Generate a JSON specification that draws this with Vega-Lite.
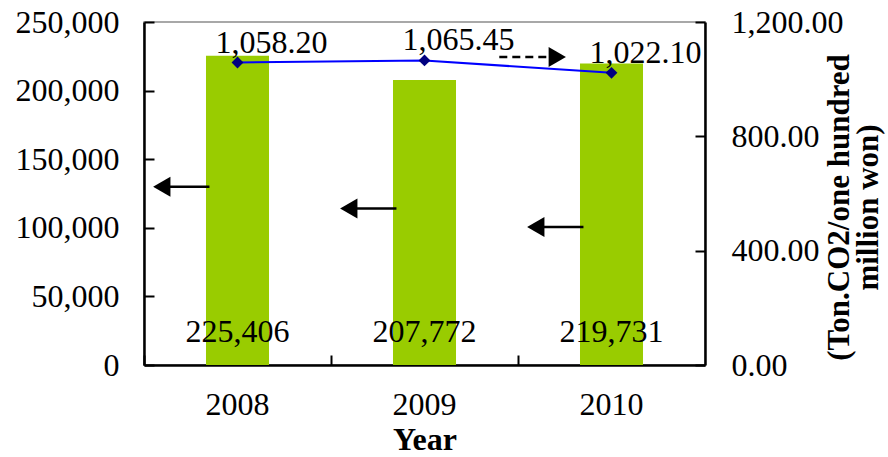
{
  "$schema": "https://vega.github.io/schema/vega-lite/v6.json",
  "width": 561,
  "height": 343,
  "autosize": "none",
  "padding": {"left": 144, "top": 22, "right": 183, "bottom": 92},
  "background": "white",
  "config": {
    "font": "Liberation Serif",
    "view": {"stroke": "#8c8c8c", "strokeWidth": 1.5},
    "axis": {
      "labelColor": "#000",
      "titleColor": "#000",
      "labelFontSize": 32,
      "titleFontSize": 32,
      "titleFontWeight": "bold",
      "domainColor": "#000",
      "domainWidth": 2.5,
      "tickColor": "#000",
      "tickWidth": 2,
      "tickSize": -10,
      "grid": false
    }
  },
  "datasets": {
    "emissions": [
      {"year": 2008, "total": 225406, "intensity": 1058.20},
      {"year": 2009, "total": 207772, "intensity": 1065.45},
      {"year": 2010, "total": 219731, "intensity": 1022.10}
    ],
    "leftArrows": [
      {"year": 2008, "level": 130000},
      {"year": 2009, "level": 114000},
      {"year": 2010, "level": 100500}
    ],
    "rightArrow": [
      {"from": 2009, "to": 2010, "level": 224500}
    ]
  },
  "layer": [
    {
      "encoding": {
        "y": {
          "type": "quantitative",
          "scale": {"domain": [0, 250000], "nice": false},
          "axis": {
            "orient": "left",
            "title": null,
            "values": [0, 50000, 100000, 150000, 200000, 250000],
            "format": ",d",
            "labelPadding": 35
          }
        }
      },
      "layer": [
        {
          "data": {"name": "emissions"},
          "mark": {"type": "bar", "color": "#99cc00", "width": {"band": 0.337}},
          "encoding": {
            "x": {
              "field": "year",
              "type": "ordinal",
              "title": "Year",
              "scale": {"paddingInner": 0, "paddingOuter": 0},
              "axis": {
                "labelAngle": 0,
                "bandPosition": 0,
                "labelPadding": 34,
                "titlePadding": 4
              }
            },
            "y": {"field": "total"}
          }
        },
        {
          "data": {"name": "emissions"},
          "mark": {"type": "text", "fontSize": 32, "color": "#000", "baseline": "alphabetic"},
          "encoding": {
            "x": {"field": "year", "type": "ordinal", "title": "Year"},
            "y": {"datum": 16800},
            "text": {"field": "total", "format": ",d"}
          }
        },
        {
          "data": {"name": "leftArrows"},
          "mark": {"type": "rule", "color": "#000", "strokeWidth": 2.5},
          "encoding": {
            "x": {"field": "year", "type": "ordinal", "title": "Year", "bandPosition": 0.1},
            "x2": {"field": "year", "bandPosition": 0.35},
            "y": {"field": "level"}
          }
        },
        {
          "data": {"name": "leftArrows"},
          "mark": {"type": "point", "shape": "triangle-left", "filled": true, "color": "#000", "size": 400, "opacity": 1},
          "encoding": {
            "x": {"field": "year", "type": "ordinal", "title": "Year", "bandPosition": 0.095},
            "y": {"field": "level"}
          }
        },
        {
          "data": {"name": "rightArrow"},
          "mark": {"type": "rule", "color": "#000", "strokeWidth": 2.5, "strokeDash": [8, 5]},
          "encoding": {
            "x": {"field": "from", "type": "ordinal", "title": "Year", "bandPosition": 0.9},
            "x2": {"field": "to", "bandPosition": 0.17},
            "y": {"field": "level"}
          }
        },
        {
          "data": {"name": "rightArrow"},
          "mark": {"type": "point", "shape": "triangle-right", "filled": true, "color": "#000", "size": 400, "opacity": 1},
          "encoding": {
            "x": {"field": "to", "type": "ordinal", "title": "Year", "bandPosition": 0.21},
            "y": {"field": "level"}
          }
        }
      ]
    },
    {
      "data": {"name": "emissions"},
      "encoding": {
        "x": {"field": "year", "type": "ordinal", "title": "Year"},
        "y": {
          "field": "intensity",
          "type": "quantitative",
          "scale": {"domain": [0, 1200], "nice": false},
          "axis": {
            "orient": "right",
            "values": [0, 400, 800, 1200],
            "format": ",.2f",
            "labelPadding": 36,
            "title": ["(Ton.CO2/one hundred", "million won)"],
            "titleAngle": -90,
            "titleFontSize": 31,
            "titleLineHeight": 29,
            "titlePadding": -17,
            "titleY": 185
          }
        }
      },
      "layer": [
        {
          "mark": {"type": "line", "color": "#0000ff", "strokeWidth": 2}
        },
        {
          "mark": {"type": "point", "shape": "diamond", "filled": true, "color": "#000080", "size": 140, "opacity": 1}
        },
        {
          "mark": {"type": "text", "fontSize": 32, "color": "#000", "align": "left", "baseline": "alphabetic", "dx": -22, "dy": -10},
          "encoding": {"text": {"field": "intensity", "format": ",.2f"}}
        }
      ]
    }
  ],
  "resolve": {"scale": {"y": "independent"}}
}
